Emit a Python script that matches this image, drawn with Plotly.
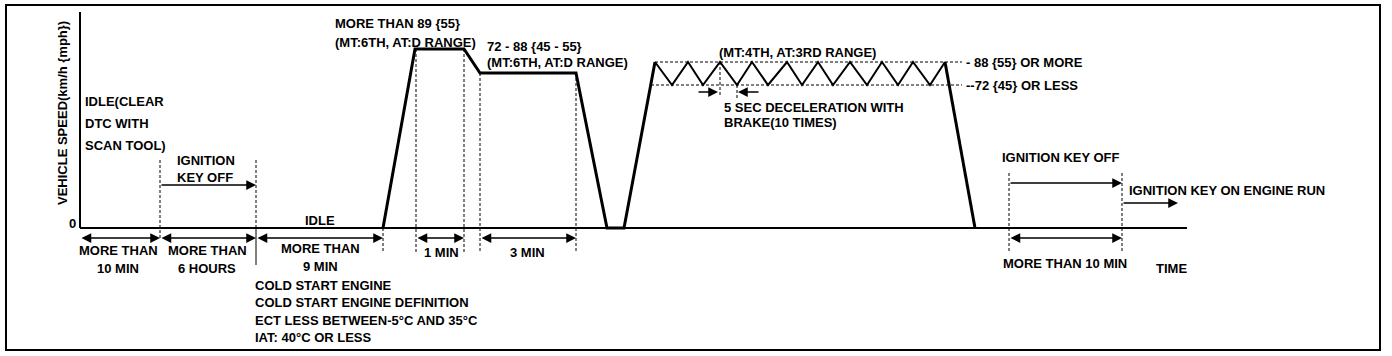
import plotly.graph_objects as go

# ---------------- data (schematic time units / schematic speed level) ----------------
cycle_time = [303, 335, 384, 400, 496, 527, 544, 575]
cycle_level = [0, 179, 179, 155, 155, 0, 0, 166]

zig_time = [575, 592, 608, 623, 640, 657, 672, 688, 707, 722, 738, 753, 770, 787, 802, 818, 833, 850, 865]
zig_level = [166, 143, 166, 143, 166, 143, 166, 143, 166, 143, 166, 143, 166, 143, 166, 143, 166, 143, 166]

decel_time = [865, 895]
decel_level = [166, 0]

time_end = 1107
axis_top = 216
zig_high = 166
zig_low = 143

# phase boundaries on the time axis
t_clear = 80
t_cold = 176
t_accel = 303
t_hold1_start = 336
t_hold1_end = 384
t_hold2_start = 400
t_hold2_end = 496
t_brake_a = 640
t_brake_b = 657
t_off_start = 929
t_off_end = 1042

FONT = dict(family="Liberation Sans, Arial, sans-serif", size=13, color="black", weight="bold")

fig = go.Figure()

def line(x, y, width=2, dash=None):
    fig.add_trace(go.Scatter(x=x, y=y, mode="lines", hoverinfo="skip", showlegend=False,
                             line=dict(color="black", width=width, dash=dash)))

# axes
line([0, time_end], [0, 0], 2)
line([0, 0], [0, axis_top], 2)

# vehicle speed profile
line(cycle_time, cycle_level, 3)
line(zig_time, zig_level, 2)
line(decel_time, decel_level, 3)

# dashed guides
DASH = "3px,2px"
line([575, 882], [zig_high, zig_high], 1, DASH)
line([571, 882], [zig_low, zig_low], 1, DASH)
line([t_clear, t_clear], [68, -10], 1, DASH)
line([t_cold, t_cold], [68, 0], 1, DASH)
line([t_cold, t_cold], [0, -37], 1)
line([t_accel, t_accel], [0, -25], 1, DASH)
line([t_hold1_start, t_hold1_start], [179, -25], 1, DASH)
line([t_hold1_end, t_hold1_end], [179, -25], 1, DASH)
line([t_hold2_start, t_hold2_start], [155, -25], 1, DASH)
line([t_hold2_end, t_hold2_end], [155, -25], 1, DASH)
line([t_brake_a, t_brake_a], [zig_high, 133], 1, DASH)
line([t_brake_b, t_brake_b], [zig_low, 128], 1, DASH)
line([t_off_start, t_off_start], [55, -25], 1, DASH)
line([t_off_end, t_off_end], [55, -25], 1, DASH)

ann = []

def arrow(x0, x1, y, both=False):
    ann.append(dict(x=x1, y=y, ax=x0, ay=y, xref="x", yref="y", axref="x", ayref="y",
                    text="", showarrow=True, arrowhead=2, arrowsize=1.3, arrowwidth=1.5,
                    arrowcolor="black", arrowside="end+start" if both else "end"))

def txt(x, y, s, anchor="left", angle=0):
    ann.append(dict(x=x, y=y, xref="x", yref="y", text=s, showarrow=False,
                    xanchor=anchor, yanchor="middle", font=FONT, textangle=angle))

# arrows
arrow(t_clear, t_cold, 43)
arrow(0, t_clear, -10, True)
arrow(t_clear, t_cold, -10, True)
arrow(t_cold, t_accel, -10, True)
arrow(t_hold1_start, t_hold1_end, -10, True)
arrow(t_hold2_start, t_hold2_end, -10, True)
arrow(t_off_start, t_off_end, -10, True)
arrow(t_off_start, t_off_end, 45)
arrow(t_off_end, 1098, 25)
arrow(617, 638, 136)
arrow(680, 658, 136)

# texts
txt(-18, 115, "VEHICLE SPEED(km/h {mph})", "center", -90)
txt(-8, 5, "0", "center")
txt(3, 127, "IDLE(CLEAR")
txt(3, 105, "DTC WITH")
txt(3, 83, "SCAN TOOL)")
txt(95, 68, "IGNITION")
txt(95, 51, "KEY OFF")
txt(240, 8, "IDLE", "center")
txt(38, -22, "MORE THAN", "center")
txt(38, -40, "10 MIN", "center")
txt(127, -22, "MORE THAN", "center")
txt(127, -40, "6 HOURS", "center")
txt(240, -20, "MORE THAN", "center")
txt(240, -38, "9 MIN", "center")
txt(173, -57, "COLD START ENGINE")
txt(173, -74, "COLD START ENGINE DEFINITION")
txt(173, -92, "ECT LESS BETWEEN-5°C AND 35°C")
txt(173, -109, "IAT: 40°C OR LESS")
txt(361, -24, "1 MIN", "center")
txt(447, -24, "3 MIN", "center")
txt(253, 205, "MORE THAN 89 {55}")
txt(253, 186, "(MT:6TH, AT:D RANGE)")
txt(405, 182, "72 - 88 {45 - 55}")
txt(405, 166, "(MT:6TH, AT:D RANGE)")
txt(637, 176, "(MT:4TH, AT:3RD RANGE)")
txt(884, 166, "- 88 {55} OR MORE")
txt(884, 143, "--72 {45} OR LESS")
txt(642, 121, "5 SEC DECELERATION WITH")
txt(642, 106, "BRAKE(10 TIMES)")
txt(920, 71, "IGNITION KEY OFF")
txt(1047, 38, "IGNITION KEY ON ENGINE RUN")
txt(985, -35, "MORE THAN 10 MIN", "center")
txt(1091, -40, "TIME", "center")

fig.update_layout(
    width=1392, height=356,
    margin=dict(l=0, r=0, t=0, b=0),
    paper_bgcolor="white", plot_bgcolor="white",
    xaxis=dict(range=[-80, 1312], visible=False, fixedrange=True),
    yaxis=dict(range=[-128, 228], visible=False, fixedrange=True),
    annotations=ann,
    shapes=[dict(type="rect", xref="paper", yref="paper",
                 x0=6 / 1392, x1=1380 / 1392, y0=1 - 350 / 356, y1=1 - 5 / 356,
                 line=dict(color="black", width=2))],
    showlegend=False,
)

fig.write_html("out.html")
